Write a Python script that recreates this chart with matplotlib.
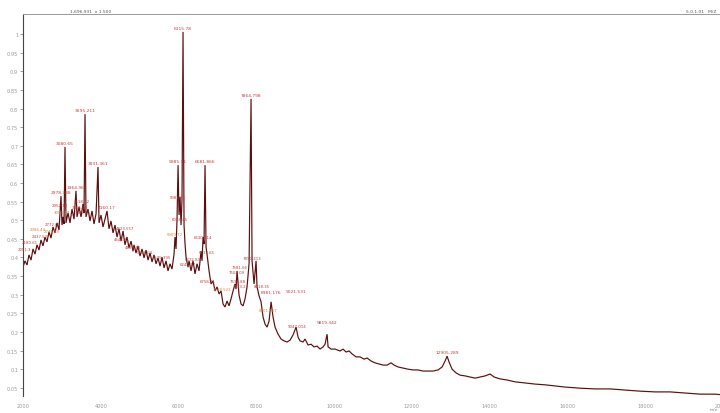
import matplotlib
matplotlib.use("Agg")
import matplotlib.pyplot as plt
from matplotlib.ticker import FixedLocator, FixedFormatter

# ---- spectrum trace (m/z, relative intensity) ----
mz = [2000, 2051, 2103, 2154, 2206, 2257, 2309, 2360, 2412, 2463, 2514, 2566, 2617, 2669,
      2720, 2772, 2823, 2874, 2926, 2977, 3003, 3029, 3055, 3080, 3106, 3157, 3209, 3260,
      3312, 3363, 3389, 3440, 3492, 3543, 3569, 3595, 3620, 3672, 3723, 3775, 3826, 3878,
      3929, 3955, 4006, 4058, 4109, 4160, 4212, 4263, 4315, 4366, 4418, 4469, 4521, 4572,
      4623, 4675, 4726, 4778, 4829, 4855, 4906, 4958, 5009, 5061, 5112, 5164, 5215, 5266,
      5318, 5369, 5421, 5472, 5524, 5575, 5627, 5678, 5729, 5781, 5832, 5884, 5909, 5935,
      5961, 5987, 6012, 6038, 6064, 6089, 6115, 6141, 6167, 6192, 6244, 6270, 6321, 6372,
      6424, 6475, 6527, 6578, 6604, 6630, 6655, 6681, 6707, 6732, 6784, 6835, 6887, 6938,
      6990, 7041, 7093, 7144, 7195, 7247, 7298, 7350, 7401, 7453, 7478, 7504, 7556, 7607,
      7658, 7710, 7761, 7813, 7864, 7890, 7941, 7993, 8018, 8070, 8121, 8173, 8224, 8276,
      8327, 8379, 8430, 8481, 8559, 8636, 8713, 8790, 8867, 8944, 9022, 9073, 9124, 9202,
      9253, 9330, 9407, 9484, 9562, 9639, 9716, 9767, 9819, 9845, 9922, 10025, 10153, 10230,
      10308, 10385, 10462, 10565, 10668, 10771, 10848, 10951, 11053, 11156, 11259, 11362,
      11465, 11542, 11645, 11774, 11902, 12031, 12159, 12288, 12417, 12545, 12674, 12777,
      12854, 12905, 12957, 13034, 13137, 13240, 13368, 13497, 13625, 13754, 13883, 14011,
      14114, 14268, 14448, 14654, 14911, 15169, 15426, 15683, 15940, 16326, 16712, 17098,
      17483, 17869, 18255, 18641, 19027, 19412, 19798, 20004]
intensity = [0.374, 0.391, 0.380, 0.407, 0.393, 0.423, 0.409, 0.434, 0.420, 0.447, 0.431,
             0.455, 0.442, 0.469, 0.452, 0.482, 0.466, 0.493, 0.474, 0.565, 0.487, 0.509,
             0.490, 0.697, 0.493, 0.520, 0.493, 0.530, 0.503, 0.579, 0.509, 0.536, 0.509,
             0.544, 0.520, 0.785, 0.509, 0.530, 0.498, 0.525, 0.490, 0.517, 0.643, 0.493,
             0.514, 0.482, 0.503, 0.525, 0.477, 0.498, 0.466, 0.487, 0.455, 0.477, 0.444,
             0.471, 0.434, 0.455, 0.426, 0.444, 0.417, 0.434, 0.412, 0.431, 0.404, 0.423,
             0.399, 0.420, 0.393, 0.412, 0.388, 0.407, 0.383, 0.399, 0.377, 0.401, 0.372,
             0.391, 0.364, 0.383, 0.369, 0.409, 0.455, 0.423, 0.503, 0.648, 0.514, 0.563,
             0.487, 0.557, 1.006, 0.487, 0.436, 0.401, 0.374, 0.391, 0.364, 0.391, 0.356,
             0.383, 0.364, 0.417, 0.391, 0.455, 0.436, 0.648, 0.428, 0.409, 0.364, 0.329,
             0.337, 0.310, 0.321, 0.302, 0.310, 0.275, 0.267, 0.283, 0.270, 0.289, 0.310,
             0.329, 0.315, 0.364, 0.299, 0.275, 0.270, 0.289, 0.321, 0.383, 0.826, 0.391,
             0.329, 0.391, 0.321, 0.297, 0.281, 0.240, 0.221, 0.213, 0.229, 0.281, 0.240,
             0.213, 0.194, 0.181, 0.176, 0.173, 0.178, 0.192, 0.213, 0.186, 0.176, 0.173,
             0.181, 0.165, 0.167, 0.160, 0.162, 0.154, 0.160, 0.167, 0.194, 0.160, 0.154,
             0.154, 0.149, 0.154, 0.146, 0.149, 0.141, 0.133, 0.133, 0.127, 0.130, 0.122,
             0.117, 0.114, 0.111, 0.111, 0.117, 0.111, 0.106, 0.103, 0.100, 0.098, 0.098,
             0.095, 0.095, 0.095, 0.098, 0.106, 0.122, 0.135, 0.119, 0.100, 0.090, 0.084,
             0.082, 0.079, 0.076, 0.079, 0.082, 0.087, 0.079, 0.074, 0.071, 0.066, 0.063,
             0.060, 0.058, 0.055, 0.052, 0.049, 0.047, 0.047, 0.044, 0.041, 0.039, 0.039,
             0.036, 0.033, 0.033, 0.031]

# ---- main peak labels ----
peak_mz = [2977, 3080, 3363, 3595, 3929, 4160, 5987, 6115, 6681, 7864, 8379, 9022, 9819, 12905]
peak_int = [0.565, 0.697, 0.579, 0.785, 0.643, 0.525, 0.648, 1.006, 0.648, 0.826, 0.297,
            0.299, 0.216, 0.135]
peak_txt = ["2978.388", "3080.65", "3364.96", "3595.211", "3931.361", "4160.17", "5985.11",
            "6115.78", "6681.866", "7864.798", "8381.176", "9021.531", "9819.342", "12905.289"]

# ---- minor labels (m/z, intensity at label centre) ----
minor_mz = [2051, 2180, 2386, 2437, 2746, 2772, 2952, 3003, 3518, 3466, 3543, 4623, 4546,
            4829, 5138, 5575, 5987, 6038, 5909, 6630, 6732, 6372, 6244, 6758, 7118, 7890,
            7581, 7504, 7530, 7600, 8130, 8301, 9047]
minor_int = [0.423, 0.442, 0.477, 0.458, 0.471, 0.490, 0.541, 0.522, 0.552, 0.536, 0.522,
             0.479, 0.450, 0.428, 0.415, 0.401, 0.562, 0.503, 0.463, 0.455, 0.415, 0.396,
             0.383, 0.337, 0.315, 0.399, 0.374, 0.361, 0.337, 0.324, 0.324, 0.259, 0.216]
minor_txt = ["2051.3", "2180.61", "2386.44", "2437.52", "2746.89", "2772.05", "2952.34",
             "3003.17", "3518.42", "3466.08", "3543.91", "4623.557", "4546.21", "4829.36",
             "5138.04", "5575.395", "5987.21", "6038.45", "5909.72", "6630.314", "6732.65",
             "6372.83", "6244.17", "6758.71", "7118.522", "7890.413", "7581.66", "7504.09",
             "7530.88", "7633.27", "8018.35", "8301.507", "9047.014"]
minor_orange = {2, 4, 7, 18, 24, 31}

yticks = [0.05, 0.1, 0.15, 0.2, 0.25, 0.3, 0.35, 0.4, 0.45, 0.5, 0.55, 0.6, 0.65, 0.7,
          0.75, 0.8, 0.85, 0.9, 0.95, 1.0]
ytick_labels = ["0.05", "0.1", "0.15", "0.2", "0.25", "0.3", "0.35", "0.4", "0.45", "0.5",
                "0.55", "0.6", "0.65", "0.7", "0.75", "0.8", "0.85", "0.9", "0.95", "1"]
xticks = [2000, 4000, 6000, 8000, 10000, 12000, 14000, 16000, 18000, 20000]

fig = plt.figure(figsize=(7.2, 4.14), dpi=100)
ax = fig.add_axes([23 / 720, 17 / 414, 700 / 720, 382 / 414])

ax.plot(mz, intensity, color="#5a0e0e", lw=0.85, solid_joinstyle="miter")

for x, y, t in zip(peak_mz, peak_int, peak_txt):
    ax.annotate(t, (x, y), xytext=(0, 1.5), textcoords="offset points",
                ha="center", va="bottom", fontsize=3.2, color="#c83a3a")
for i, (x, y, t) in enumerate(zip(minor_mz, minor_int, minor_txt)):
    ax.text(x, y, t, ha="center", va="center", fontsize=2.8,
            color="#d8843c" if i in minor_orange else "#c83a3a")

ax.set_xlim(2000, 20000)
ax.set_ylim(0.028, 1.054)

ax.yaxis.set_major_locator(FixedLocator(yticks))
ax.yaxis.set_major_formatter(FixedFormatter(ytick_labels))
ax.set_xticks(xticks)
ax.set_xticklabels([str(v) for v in xticks])
ax.tick_params(axis="y", labelsize=3.6, labelcolor="#9a9a9a", length=2, width=0.5,
               color="#777777", pad=1.5)
ax.tick_params(axis="x", labelsize=3.6, labelcolor="#9a9a9a", length=0, pad=5)

ax.spines["right"].set_visible(False)
ax.spines["bottom"].set_visible(False)
ax.spines["left"].set_color("#444444")
ax.spines["left"].set_linewidth(0.8)
ax.spines["top"].set_color("#999999")
ax.spines["top"].set_linewidth(0.7)

fig.text(70 / 720, 1 - 12 / 414, "1,696,931  x 1.500", fontsize=3.2, color="#555555",
         ha="left", va="center")
fig.text(716 / 720, 1 - 12 / 414, "5.0.1.01   M/Z", fontsize=3.2, color="#555555",
         ha="right", va="center")
fig.text(718 / 720, 1 - 410 / 414, "m/z", fontsize=3.2, color="#777777",
         ha="right", va="center")

fig.savefig("out.png", dpi=100)
